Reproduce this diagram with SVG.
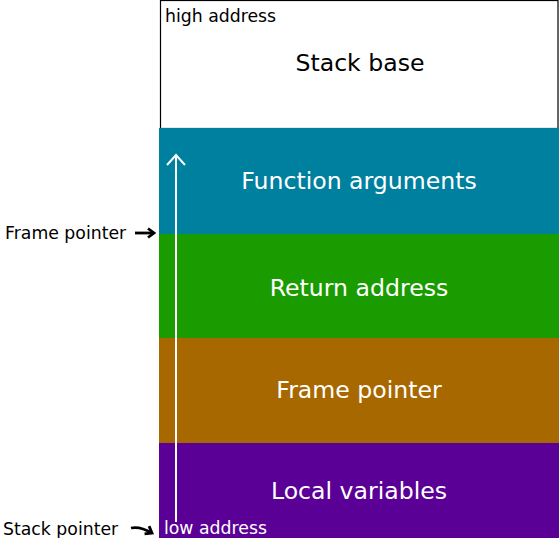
<svg xmlns="http://www.w3.org/2000/svg" width="559" height="538" viewBox="0 0 559 538">
<style>
.lbl{font-family:"DejaVu Sans",sans-serif;font-size:23.6px;fill:#fff;text-anchor:middle}
.sm{font-family:"DejaVu Sans",sans-serif;font-size:17.3px}
.ptr{fill:none;stroke:#000;stroke-width:2.8}
</style>
<defs>
<marker id="ah" markerWidth="12" markerHeight="12" refX="9" refY="6" orient="auto" markerUnits="userSpaceOnUse">
<path d="M3,1.5 L9,6 L3,10.5" fill="none" stroke="#000" stroke-width="2.8"/>
</marker>
</defs>
<g id="stack-base"><rect x="160.5" y="0.5" width="397.5" height="128" fill="#fff" stroke="#000" stroke-width="1.2"/>
<text class="lbl" x="360" y="71" style="fill:#000">Stack base</text>
<text class="sm" x="165" y="22">high address</text></g>
<g id="function-arguments"><rect x="159" y="128" width="400" height="106" fill="#00809f"/>
<text class="lbl" x="359" y="189">Function arguments</text></g>
<g id="return-address"><rect x="159" y="234" width="400" height="104" fill="#1a9c00"/>
<text class="lbl" x="359" y="296">Return address</text></g>
<g id="frame-pointer"><rect x="159" y="338" width="400" height="105" fill="#a86800"/>
<text class="lbl" x="359" y="398">Frame pointer</text></g>
<g id="local-variables"><rect x="159" y="443" width="400" height="95" fill="#5a0096"/>
<text class="lbl" x="359" y="499">Local variables</text>
<text class="sm" x="164" y="534" style="fill:#fff">low address</text></g>
<g id="connectors">
<line x1="176" y1="522" x2="176" y2="155" stroke="#fff" stroke-width="2"/>
<path d="M167,165 L176,155 L185,165" fill="none" stroke="#fff" stroke-width="2"/>
<path class="ptr" d="M135,233 L154,233" marker-end="url(#ah)"/>
<path class="ptr" d="M131,528 Q140,526 152,533" marker-end="url(#ah)"/>
</g>
<g id="labels">
<text class="sm" x="5" y="239">Frame pointer</text>
<text class="sm" x="3" y="535">Stack pointer</text>
</g>
</svg>
